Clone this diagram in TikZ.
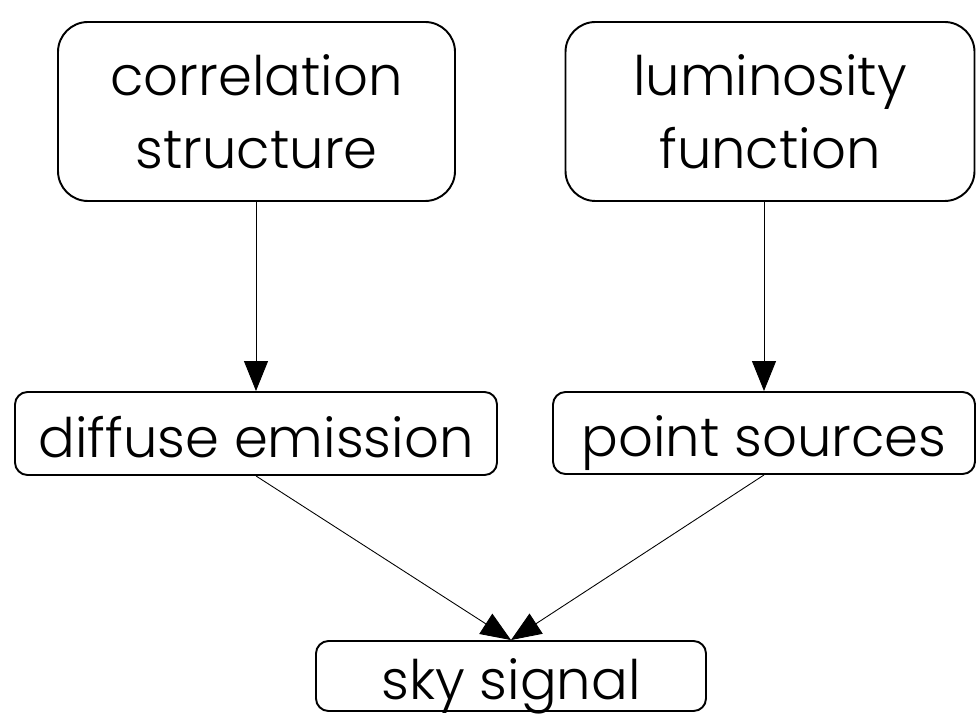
\documentclass[tikz,border=0pt]{standalone}
\usepackage{fontspec}
\setmainfont{Poppins}[UprightFont=* Light]
\usetikzlibrary{arrows.meta}
\tikzset{
  bigbox/.style={draw, line width=1.1pt, rounded corners=0.6cm, align=center,
    inner sep=0pt, font=\fontsize{31}{41.5}\selectfont},
  smallbox/.style={draw, line width=1.1pt, rounded corners=0.25cm, align=center,
    inner sep=0pt, text height=27pt, text depth=0.2pt,
    font=\fontsize{31}{41.5}\selectfont},
  flow/.style={-{Triangle[length=0.6cm,width=0.48cm]}, line width=0.5pt}
}
\begin{document}
\begin{tikzpicture}[x=1cm,y=1cm]
\useasboundingbox (0,0) rectangle (19.58,14.52);
\node[bigbox, minimum width=7.94cm, minimum height=3.58cm] (corr) at (5.13,12.29) {correlation\\structure};
\node[bigbox, minimum width=8.18cm, minimum height=3.58cm] (lumfn) at (15.40,12.29) {luminosity\\function};
\node[smallbox, minimum width=9.64cm, minimum height=1.66cm] (diffuse) at (5.12,5.85) {diffuse emission};
\node[smallbox, minimum width=8.44cm, minimum height=1.64cm] (points) at (15.28,5.86) {point sources};
\node[smallbox, minimum width=7.80cm, minimum height=1.40cm] (sky) at (10.22,1.00) {sky signal};
\draw[flow] (corr.south -| diffuse.north) -- (diffuse.north);
\draw[flow] (lumfn.south -| points.north) -- (points.north);
\draw[flow] (diffuse.south) -- (sky.north);
\draw[flow] (points.south) -- (sky.north);
\end{tikzpicture}
\end{document}
